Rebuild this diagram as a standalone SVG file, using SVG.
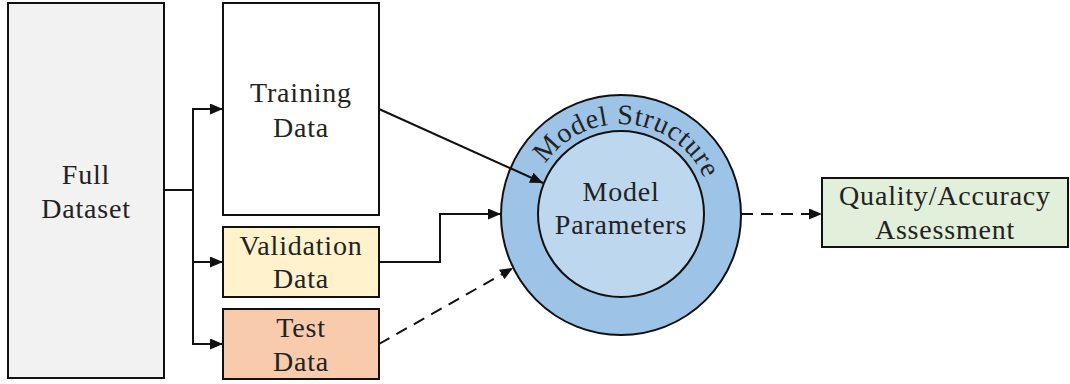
<svg xmlns="http://www.w3.org/2000/svg" width="1070" height="384" viewBox="0 0 1070 384">
  <style>
    .box { stroke: #111; stroke-width: 2; }
    .lbl { font-family: "Liberation Serif", "DejaVu Serif", serif; font-size: 28px; letter-spacing: 0.8px; fill: #222; text-anchor: middle; }
    .wire { fill: none; stroke: #111; stroke-width: 2; }
    .dash { stroke-dasharray: 12 8; }
  </style>
  <defs>
    <marker id="arrow" viewBox="0 0 13 11" refX="13" refY="5.5" markerWidth="13" markerHeight="11" markerUnits="userSpaceOnUse" orient="auto">
      <path d="M0,0 L13,5.5 L0,11 Z" fill="#111"/>
    </marker>
    <path id="structArc" d="M530,215 A91,91 0 0 1 712,215"/>
  </defs>

  <rect width="1070" height="384" fill="#fff"/>

  <g id="full-dataset">
    <rect class="box" x="8" y="3" width="156" height="375" fill="#f2f2f2"/>
    <text class="lbl" x="86" y="184">Full</text>
    <text class="lbl" x="86" y="218">Dataset</text>
  </g>

  <g id="training-data">
    <rect class="box" x="223" y="3" width="156" height="212" fill="#fff"/>
    <text class="lbl" x="301" y="102">Training</text>
    <text class="lbl" x="301" y="137">Data</text>
  </g>

  <g id="validation-data">
    <rect class="box" x="223" y="227" width="156" height="70" fill="#fff2cc"/>
    <text class="lbl" x="301" y="255">Validation</text>
    <text class="lbl" x="301" y="288">Data</text>
  </g>

  <g id="test-data">
    <rect class="box" x="223" y="309" width="156" height="70" fill="#f8cbad"/>
    <text class="lbl" x="301" y="337">Test</text>
    <text class="lbl" x="301" y="371">Data</text>
  </g>

  <g id="model">
    <circle class="box" cx="621" cy="215" r="120" fill="#9dc3e6"/>
    <circle class="box" cx="621" cy="214" r="83" fill="#bdd7ee"/>
    <text class="lbl"><textPath href="#structArc" startOffset="53%">Model Structure</textPath></text>
    <text class="lbl" x="621" y="201">Model</text>
    <text class="lbl" x="621" y="234">Parameters</text>
  </g>

  <g id="assessment">
    <rect class="box" x="822" y="178" width="246" height="69" fill="#e2efda"/>
    <text class="lbl" x="945" y="205">Quality/Accuracy</text>
    <text class="lbl" x="945" y="239">Assessment</text>
  </g>

  <g id="connectors">
    <path class="wire" d="M164,190 H193"/>
    <path class="wire" d="M193,190 V109 H223" marker-end="url(#arrow)"/>
    <path class="wire" d="M193,190 V262 H223" marker-end="url(#arrow)"/>
    <path class="wire" d="M193,262 V344 H223" marker-end="url(#arrow)"/>
    <path class="wire" d="M379,109 L543,183" marker-end="url(#arrow)"/>
    <path class="wire" d="M379,262 H440 V214 H501" marker-end="url(#arrow)"/>
    <path class="wire dash" d="M379,344 L513,268" marker-end="url(#arrow)"/>
    <path class="wire dash" d="M741,214 H822" marker-end="url(#arrow)"/>
  </g>
</svg>
